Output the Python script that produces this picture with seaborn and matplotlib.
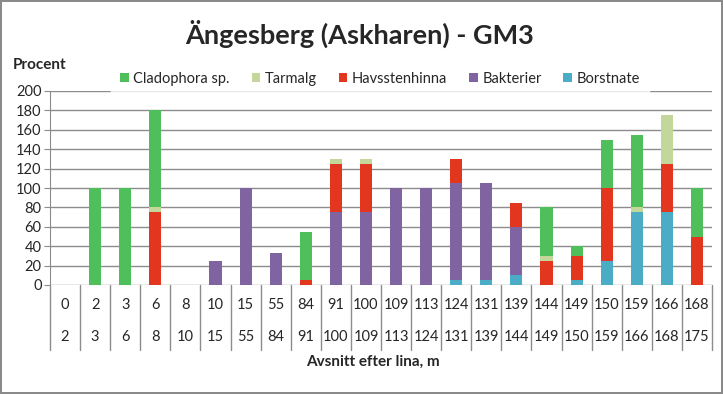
import matplotlib
matplotlib.use("Agg")
import matplotlib.pyplot as plt
import matplotlib.transforms as mtransforms
import numpy as np
import pandas as pd
import seaborn as sns

# section start / end along the line (m)
starts = [0, 2, 3, 6, 8, 10, 15, 55, 84, 91, 100, 109, 113, 124, 131, 139, 144, 149, 150, 159, 166, 168]
ends = [2, 3, 6, 8, 10, 15, 55, 84, 91, 100, 109, 113, 124, 131, 139, 144, 149, 150, 159, 166, 168, 175]

# cover in percent, stacked bottom -> top
borstnate = [0, 0, 0, 0, 0, 0, 0, 0, 0, 0, 0, 0, 0, 5, 5, 10, 0, 5, 25, 75, 75, 0]
bakterier = [0, 0, 0, 0, 0, 25, 100, 33, 0, 75, 75, 100, 100, 100, 100, 50, 0, 0, 0, 0, 0, 0]
havsstenhinna = [0, 0, 0, 75, 0, 0, 0, 0, 5, 50, 50, 0, 0, 25, 0, 25, 25, 25, 75, 0, 50, 50]
tarmalg = [0, 0, 0, 5, 0, 0, 0, 0, 0, 5, 5, 0, 0, 0, 0, 0, 5, 0, 0, 5, 50, 0]
cladophora = [0, 100, 100, 100, 0, 0, 0, 0, 50, 0, 0, 0, 0, 0, 0, 0, 50, 10, 50, 75, 0, 50]

series_names = ["Borstnate", "Bakterier", "Havsstenhinna", "Tarmalg", "Cladophora sp."]
series_vals = [borstnate, bakterier, havsstenhinna, tarmalg, cladophora]
colors = ["#4BACC6", "#8064A2", "#E2361F", "#C4D79B", "#4EBF5A"]
legend_order = ["Cladophora sp.", "Tarmalg", "Havsstenhinna", "Bakterier", "Borstnate"]

sns.set_style("white")
plt.rcParams["font.family"] = ["Lato", "DejaVu Sans"]

cats = [f"{s}-{e}" for s, e in zip(starts, ends)]
df = pd.DataFrame({"avsnitt": cats})
for name, vals in zip(series_names, series_vals):
    df[name] = vals

fig = plt.figure(figsize=(7.23, 3.94), dpi=100, facecolor="white",
                 edgecolor="#8a8a8a", linewidth=1.5)
ax = fig.add_axes([50 / 723, 1 - 285 / 394, 662 / 723, 194 / 394])

grid_col = "#8c8c8c"
bottom = np.zeros(len(cats))
for name, col in zip(series_names, colors):
    sns.barplot(data=df, x="avsnitt", y=name, order=cats, color=col, saturation=1,
                width=0.4, bottom=bottom, errorbar=None, label=name, ax=ax, zorder=3,
                linewidth=0, edgecolor=col)
    bottom = bottom + df[name].values
if ax.get_legend() is not None:
    ax.get_legend().remove()

ax.set_xlim(-0.5, len(cats) - 0.5)
ax.set_ylim(0, 200)
ax.set_yticks(range(0, 201, 20))
ax.yaxis.grid(True, color=grid_col, linewidth=1)
ax.set_axisbelow(True)
for s in ["top", "right", "bottom"]:
    ax.spines[s].set_visible(False)
ax.spines["left"].set_color(grid_col)
ax.tick_params(axis="y", length=4, color=grid_col, labelsize=10.5, pad=2, left=True)
ax.tick_params(axis="x", length=0, labelbottom=False)
ax.set_xlabel("")
ax.set_ylabel("")

# two-row category axis with separators
trans = mtransforms.blended_transform_factory(ax.transData, ax.transAxes)
px = 1 / 194
for i in range(len(cats) + 1):
    ax.plot([i - 0.5, i - 0.5], [0, -65 * px], transform=trans, color=grid_col,
            linewidth=1, clip_on=False)
for i, (s, e) in enumerate(zip(starts, ends)):
    ax.text(i, -20 * px, str(s), transform=trans, ha="center", va="center", fontsize=10.5)
    ax.text(i, -52 * px, str(e), transform=trans, ha="center", va="center", fontsize=10.5)

fig.text(373 / 723, 1 - 362 / 394, "Avsnitt efter lina, m", ha="center", va="center",
         fontsize=11, fontweight="bold")
fig.text(13 / 723, 1 - 65 / 394, "Procent", ha="left", va="center",
         fontsize=11, fontweight="bold")
fig.text(360 / 723, 1 - 34 / 394, "Ängesberg (Askharen) - GM3", ha="center", va="center",
         fontsize=19.5, fontweight="bold")

handles, labels = ax.get_legend_handles_labels()
hmap = dict(zip(labels, handles))
leg = fig.legend([hmap[n] for n in legend_order], legend_order, ncol=5,
                 loc="center", bbox_to_anchor=(380 / 723, 1 - 79 / 394),
                 frameon=True, fontsize=10.5, handlelength=0.6, handleheight=0.6,
                 handletextpad=0.3, columnspacing=1.5, borderpad=0.6)
leg.get_frame().set_facecolor("white")
leg.get_frame().set_edgecolor("white")
leg.set_zorder(10)

fig.savefig("out.png", dpi=100, facecolor="white", edgecolor="#8a8a8a")
